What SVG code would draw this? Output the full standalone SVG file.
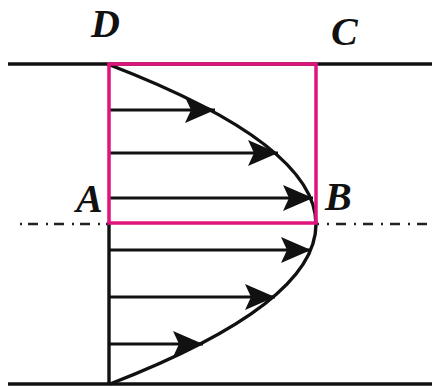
<svg xmlns="http://www.w3.org/2000/svg" width="432" height="387" viewBox="0 0 432 387">
<defs>
<style>
.wall{stroke:#111;stroke-width:3.5;fill:none}
.axis{stroke:#222;stroke-width:2.5;fill:none}
.box{stroke:#e0147c;stroke-width:3.5;fill:none}
.vel{stroke:#111;stroke-width:3.2;fill:none;marker-end:url(#ah)}
.prof{stroke:#111;stroke-width:3.4;fill:none}
.lbl{font-family:"Liberation Serif","Times New Roman",serif;font-weight:bold;font-style:italic;font-size:40px;fill:#111}
</style>
<marker id="ah" markerUnits="userSpaceOnUse" markerWidth="34" markerHeight="30" refX="31" refY="13" orient="auto">
<path d="M31,13 L1,0 L7,13 L1,26 Z" fill="#111"/>
</marker>
</defs>
<g id="walls">
<line class="wall" x1="8" y1="64" x2="432" y2="64"/>
<line class="wall" x1="8" y1="384" x2="432" y2="384"/>
</g>
<g id="centerline">
<line class="axis" x1="20" y1="224" x2="108" y2="224" stroke-dasharray="2 6 10 8"/>
<line class="axis" x1="317" y1="224" x2="432" y2="224" stroke-dasharray="2 7 10 8" stroke-dashoffset="17"/>
</g>
<g id="connectors">
<line class="prof" x1="109" y1="222" x2="109" y2="384"/>
<path class="prof" d="M110,65 Q522,224 110,384"/>
<line class="vel" x1="110" y1="110" x2="215" y2="110"/>
<line class="vel" x1="110" y1="153" x2="278" y2="153"/>
<line class="vel" x1="110" y1="198" x2="313" y2="198"/>
<line class="vel" x1="110" y1="250" x2="311" y2="250"/>
<line class="vel" x1="110" y1="297" x2="275" y2="297"/>
<line class="vel" x1="110" y1="344" x2="203" y2="344"/>
</g>
<g id="box-ABCD">
<rect class="box" x="109" y="64" width="207" height="159"/>
</g>
<g id="label-D"><text class="lbl" x="91" y="37">D</text></g>
<g id="label-C"><text class="lbl" x="331" y="45">C</text></g>
<g id="label-A"><text class="lbl" x="76" y="212">A</text></g>
<g id="label-B"><text class="lbl" x="325" y="210">B</text></g>
</svg>
